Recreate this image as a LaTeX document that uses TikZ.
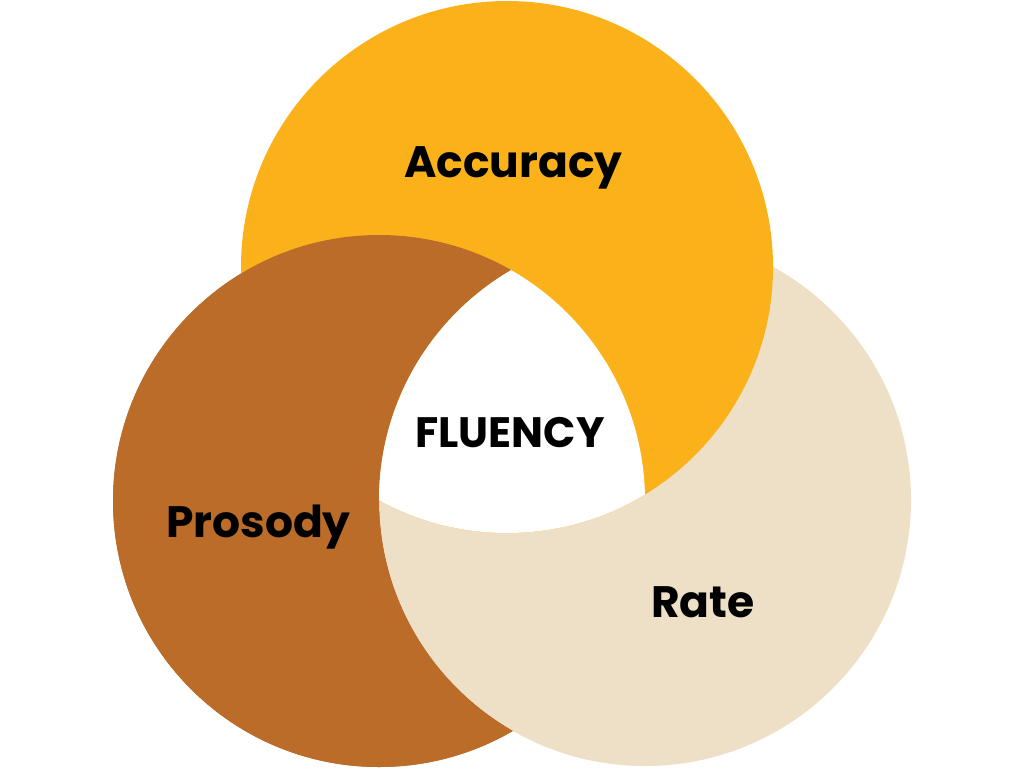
\documentclass[tikz,border=0pt]{standalone}
\usepackage{fontspec}
\setmainfont{Poppins}[UprightFont=* Bold]
\definecolor{accY}{HTML}{FBB21A}
\definecolor{proB}{HTML}{BB6C29}
\definecolor{rateB}{HTML}{EEE0C6}
\begin{document}
\begin{tikzpicture}[x=1pt,y=-1pt,
  lbl/.style={anchor=base,inner sep=0pt,font=\fontsize{44}{52}\selectfont,text=black}]
\useasboundingbox (0,0) rectangle (1024,768);
\def\R{266}
\coordinate (A) at (507,267);
\coordinate (P) at (379,501);
\coordinate (Q) at (645,500);
% prosody, then rate, then accuracy
\fill[proB] (P) circle (\R);
\fill[rateB] (Q) circle (\R);
\fill[accY] (A) circle (\R);
% accuracy-prosody overlap back to brown (prosody outside rate)
\begin{scope}[even odd rule]
  \clip (-10,-10) rectangle (1034,778) (Q) circle (\R);
  \fill[proB] (P) circle (\R);
\end{scope}
% centre white
\begin{scope}
  \clip (A) circle (\R);
  \clip (P) circle (\R);
  \fill[white] (Q) circle (\R);
\end{scope}
\node[lbl] (acc) at (513.5,177) {Accuracy};
\node[lbl,font=\fontsize{42.5}{50}\selectfont] (flu) at (510,447) {FLUENCY};
\node[lbl] (pro) at (258.5,537) {Prosody};
\node[lbl] (rat) at (703,617) {Rate};
\end{tikzpicture}
\end{document}
